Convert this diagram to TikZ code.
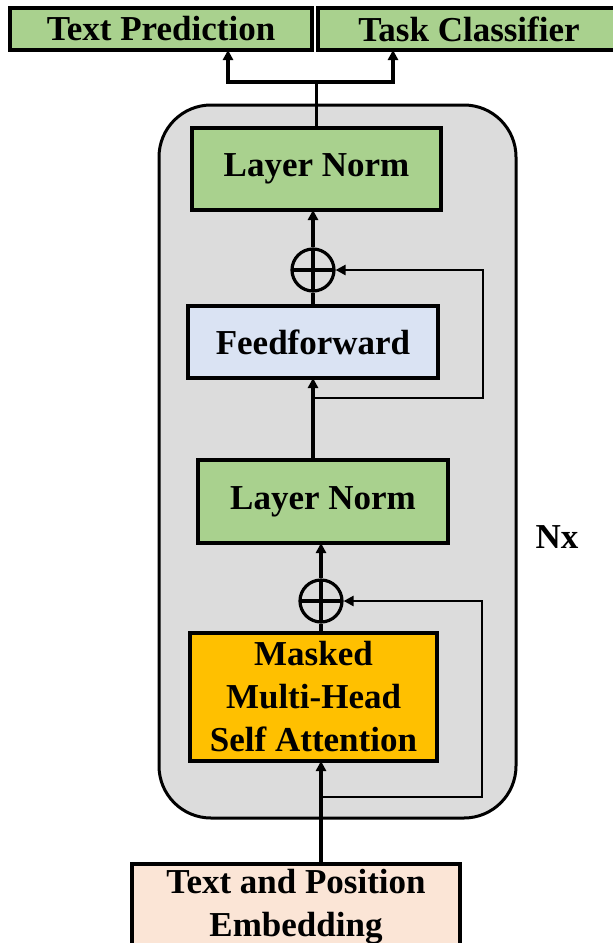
\documentclass[tikz,border=0pt]{standalone}
\usepackage{fontspec}
\setmainfont{Liberation Serif}
\usetikzlibrary{positioning, arrows.meta, calc}

\definecolor{normgreen}{HTML}{A9D18E}
\definecolor{ffblue}{HTML}{DAE3F3}
\definecolor{attnorange}{HTML}{FFC000}
\definecolor{embpeach}{HTML}{FBE5D6}
\definecolor{blockgray}{HTML}{DCDCDC}

\begin{document}
\begin{tikzpicture}[
    x=1pt, y=-1pt,
    layer/.style={
        rectangle,
        draw=black,
        line width=3.4pt,
        inner sep=0pt,
        outer sep=0pt,
        align=center,
        font=\fontsize{35}{43}\selectfont\bfseries
    },
    addop/.style={
        circle,
        draw=black,
        line width=3.2pt,
        minimum size=42pt,
        inner sep=0pt,
        path picture={
            \draw[line width=3.2pt] (path picture bounding box.north) -- (path picture bounding box.south);
            \draw[line width=3.2pt] (path picture bounding box.west) -- (path picture bounding box.east);
        }
    },
    arrow/.style={
        -{Triangle[length=10pt, width=10pt]},
        line width=3.4pt
    },
    skip/.style={
        -{Triangle[length=10pt, width=10pt]},
        line width=2.4pt
    },
    plain/.style={
        line width=3.4pt
    }
]
    \clip (0,0) rectangle (613,943);

    % -- Outputs --
    \node[layer, fill=normgreen, minimum width=302pt, minimum height=42pt] (pred) at (161,29) {Text Prediction};
    \node[layer, fill=normgreen, minimum width=302pt, minimum height=42pt] (cls) at (469,29) {Task Classifier};

    % -- Repeated block --
    \node[draw=black, line width=3pt, fill=blockgray, rounded corners=52pt,
          minimum width=357pt, minimum height=713pt] (block) at (337.5,461.5) {};
    \node[font=\fontsize{35}{42}\selectfont\bfseries] (nx) at (557,537) {Nx};

    \node[layer, fill=normgreen, minimum width=249pt, minimum height=82pt] (norm) at (316.5,169) {Layer Norm};
    \node[addop] (add) at (313,270) {};
    \node[layer, fill=ffblue, minimum width=250pt, minimum height=72pt] (ff) at (313,342) {Feedforward};

    \node[layer, fill=normgreen, minimum width=250pt, minimum height=83pt] (norm2) at (323,501.5) {Layer Norm};
    \node[addop] (add2) at (321,601) {};
    \node[layer, fill=attnorange, minimum width=247pt, minimum height=128pt] (attn) at (313.5,697) {Masked\\Multi-Head\\Self Attention};

    % -- Input --
    \node[layer, fill=embpeach, minimum width=328pt, minimum height=86pt] (embed) at (296,907) {Text and Position\\Embedding};

    % Arrows to the outputs
    \coordinate (split) at (316.5,82);
    \draw[plain] (norm.north) -- (split);
    \draw[arrow] (split) -| ([xshift=67pt]pred.south);
    \draw[arrow] (split) -| ([xshift=-76pt]cls.south);

    % Upper sub-layer
    \draw[arrow] (add.north) -- (add.north |- norm.south);
    \draw[plain] (ff.north -| add.south) -- (add.south);
    \draw[arrow] (norm2.north -| ff.south) -- (ff.south);
    \coordinate (ffin) at (313,398);
    \draw[skip] (ffin) -- ++(170,0) |- (add.east);

    % Lower sub-layer
    \draw[arrow] (add2.north) -- (add2.north |- norm2.south);
    \draw[plain] (attn.north -| add2.south) -- (add2.south);
    \draw[arrow] (embed.north -| add2.center) -- (attn.south -| add2.center);
    \coordinate (attnin) at (321,797);
    \draw[skip] (attnin) -- ++(161,0) |- (add2.east);

\end{tikzpicture}
\end{document}
